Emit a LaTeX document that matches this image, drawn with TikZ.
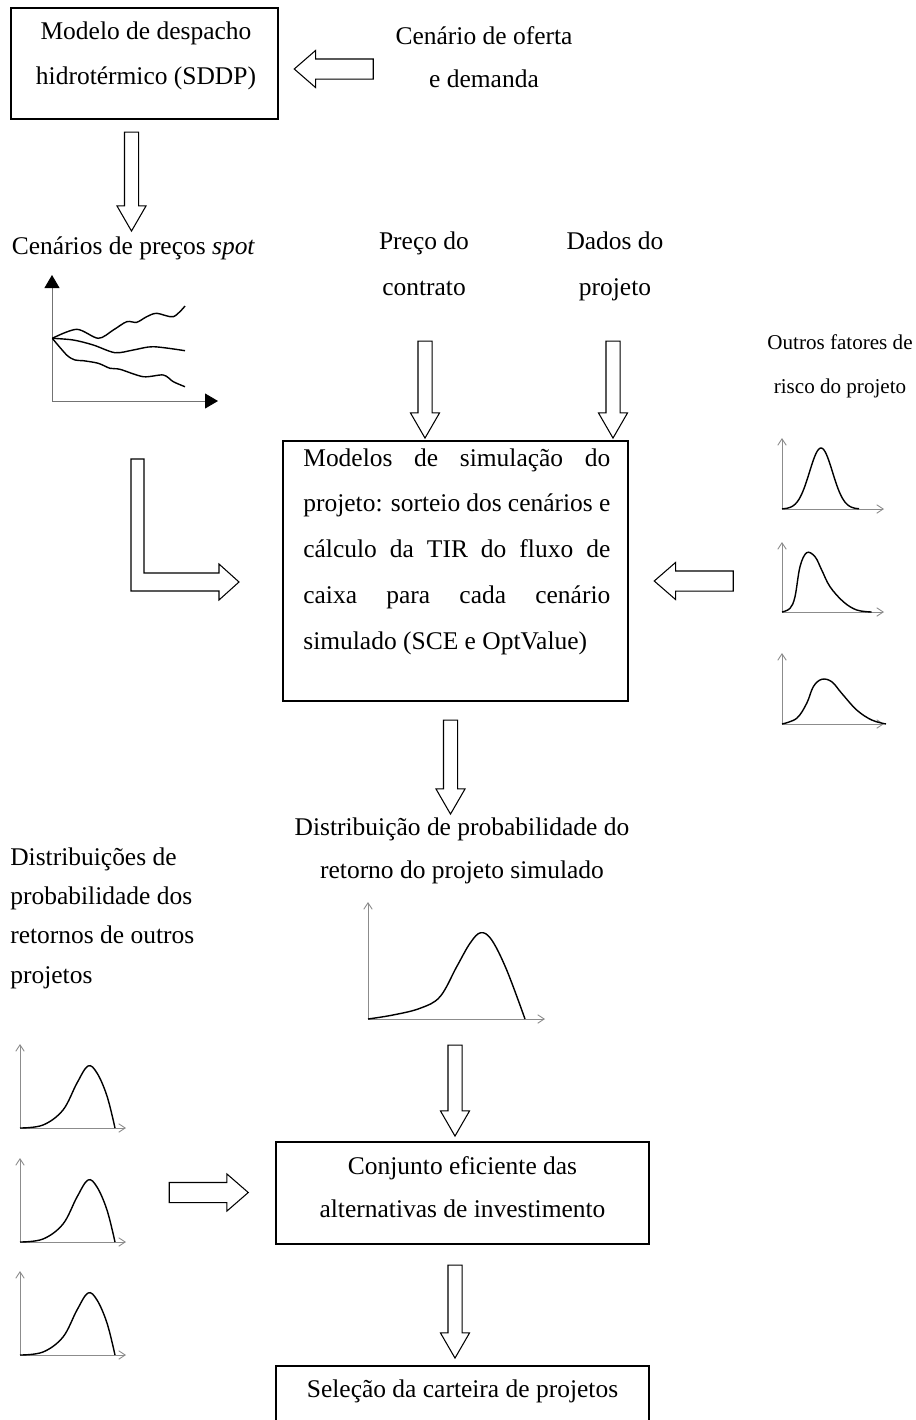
\documentclass[tikz,border=0pt]{standalone}
\usepackage{fontspec}
\setmainfont{Liberation Serif}
\usetikzlibrary{shapes.arrows,arrows.meta}
\pgfdeclarelayer{bg}
\pgfsetlayers{bg,main}
\hyphenpenalty=10000

\tikzset{
  txt/.style={font=\fontsize{14.5}{25}\selectfont, align=center, inner sep=0pt},
  frame/.style={draw, line width=0.7pt, inner sep=0pt},
  downarrow/.style={single arrow, draw, line width=0.6pt, fill=white, inner xsep=0pt,
    inner ysep=0.13cm, minimum width=0pt, single arrow head extend=0.15cm,
    single arrow tip angle=60, minimum height=1.94cm, rotate=-90},
  sidearrow/.style={single arrow, draw, line width=0.6pt, fill=white, inner xsep=0pt,
    inner ysep=0.19cm, minimum width=0pt, single arrow head extend=0.17cm,
    single arrow tip angle=82, minimum height=1.58cm},
  axis/.style={draw=black!45, line width=0.5pt, -{Straight Barb[length=0.13cm,width=0.17cm]}},
  spotaxis/.style={draw=black!55, line width=0.5pt, -{Triangle[length=0.26cm,width=0.3cm,black]}},
  curve/.style={line width=0.8pt}
}

\begin{document}
\begin{tikzpicture}[x=0.02cm, y=-0.02cm]
        \useasboundingbox (0,0) rectangle (916,1420);
        % caixas
        \node[frame, minimum width=5.34cm, minimum height=2.22cm] (sddp) at (144.5,63.5) {};
        \node[frame, minimum width=6.9cm, minimum height=5.2cm] (sim) at (455.5,571) {};
        \node[frame, minimum width=7.46cm, minimum height=2.04cm] (conj) at (462.5,1193) {};
        \node[frame, minimum width=7.46cm, minimum height=1.2cm] (sel) at (462.5,1396) {};
        % textos (base = ultima linha)
        \node[txt, font=\fontsize{14.5}{25.5}\selectfont, anchor=base] (sddptxt) at (146,84) {Modelo de despacho\\hidrotérmico (SDDP)};
        \node[txt, font=\fontsize{14.5}{24}\selectfont, anchor=base] (oferta) at (484,87) {Cenário de oferta\\e demanda};
        \node[txt, anchor=base] (spot) at (133.5,254) {Cenários de preços \textit{spot}};
        \node[txt, font=\fontsize{14.5}{26}\selectfont, anchor=base] (preco) at (424,295) {Preço do\\contrato};
        \node[txt, font=\fontsize{14.5}{26}\selectfont, anchor=base] (dados) at (615,295) {Dados do\\projeto};
        \node[txt, font=\fontsize{12}{25}\selectfont, anchor=base] (outros) at (840,393) {Outros fatores de\\risco do projeto};
        \node[txt, font=\fontsize{14.5}{26.1}\selectfont, align=justify, text width=6.14cm, anchor=base west] (simtxt) at (303,466)
                {Modelos de simulação do\linebreak projeto: sorteio dos cenários e\linebreak cálculo da TIR do fluxo de\linebreak caixa para cada cenário\linebreak simulado (SCE e OptValue)};
        \node[txt, font=\fontsize{14.5}{24}\selectfont, anchor=base] (distsim) at (462,878) {Distribuição de probabilidade do\\retorno do projeto simulado};
        \node[txt, font=\fontsize{14.5}{22.3}\selectfont, align=left, anchor=base west] (distout) at (10,983) {Distribuições de\\probabilidade dos\\retornos de outros\\projetos};
        \node[txt, font=\fontsize{14.5}{24.4}\selectfont, anchor=base] (conjtxt) at (462.5,1217) {Conjunto eficiente das\\alternativas de investimento};
        \node[txt, anchor=base] (seltxt) at (462.5,1397) {Seleção da carteira de projetos};
        % setas
        \node[downarrow, minimum height=1.98cm] (a1) at (131.5,175.5) {};
        \node[downarrow] (a2) at (425,383.5) {};
        \node[downarrow] (a3) at (613,383.5) {};
        \node[downarrow, minimum height=1.88cm] (a4) at (450.5,761) {};
        \node[downarrow, minimum height=1.82cm] (a5) at (455,1084.5) {};
        \node[downarrow, minimum height=1.86cm] (a6) at (455,1305.5) {};
        \node[sidearrow, rotate=180] (b1) at (339.5,69) {};
        \node[sidearrow, rotate=180] (b2) at (699.5,581) {};
        \node[sidearrow] (b3) at (203,1192.5) {};
        \draw[line width=0.6pt] (131,459) -- (144,459) -- (144,573) -- (219,573) -- (219,564)
                -- (239,582) -- (219,600) -- (219,591) -- (131,591) -- cycle;
        % precos spot
        \begin{pgfonlayer}{bg}
                \draw[spotaxis] (52,401) -- (52,275);
                \draw[spotaxis] (52,401) -- (218,401);
        \end{pgfonlayer}
        \draw[curve] plot[smooth, tension=0.5] coordinates {(52.3,338.3) (76.7,329.3) (98.3,338.3) (113.3,330) (126.7,321.7) (136.7,322.3) (146.7,316.7) (156.7,313.3) (173.3,316.7) (185,306)};
        \draw[curve] plot[smooth, tension=0.5] coordinates {(52.3,338.3) (73.3,340) (93.3,345) (115,352.7) (133.3,350) (153.3,346.7) (185,350.7)};
        \draw[curve] plot[smooth, tension=0.5] coordinates {(52.3,338.3) (66.7,355) (75,360) (83.3,360.7) (98.3,363.3) (110,368.3) (120,369.3) (143.3,376.7) (163.3,375) (173.3,381.7) (185,386.7)};
        % fatores de risco
        \begin{scope}[shift={(782,509)}]
                \draw[axis] (0,0) -- (0,-71);
                \draw[axis] (0,0) -- (102,0);
                \draw[curve] plot[domain=0:77, samples=60, smooth] (\x, {-61*exp(-((\x-39)/11.5)^2/2)});
        \end{scope}
        \begin{scope}[shift={(782,612)}]
                \draw[axis] (0,0) -- (0,-70);
                \draw[axis] (0,0) -- (102,0);
                \draw[curve] plot[smooth, tension=0.6] coordinates {(0,0) (8,-3.7) (13,-15.3) (18,-45.3) (24.7,-59.3) (33,-55.3) (39.7,-42) (48,-25.3) (61.3,-10.3) (74.7,-2) (89.7,0)};
        \end{scope}
        \begin{scope}[shift={(782,724)}]
                \draw[axis] (0,0) -- (0,-71);
                \draw[axis] (0,0) -- (102,0);
                \draw[curve] plot[smooth, tension=0.6] coordinates {(0,0) (14.7,-5.7) (24.7,-20.7) (31.3,-37.3) (39.7,-44.7) (49.7,-42.3) (59.7,-30.7) (74.7,-14) (89.7,-4) (104,0)};
        \end{scope}
        % projeto simulado
        \begin{scope}[shift={(368,1019)}]
                \draw[axis] (0,0) -- (0,-117);
                \draw[axis] (0,0) -- (177,0);
                \draw[curve] plot[smooth, tension=0.6] coordinates {(0,0) (25,-4) (52,-10.7) (72,-22.3) (88.7,-52.3) (102,-75.7) (112.7,-86.3) (123.7,-79) (138.7,-49) (157,0)};
        \end{scope}
        % outros projetos
        \foreach \b in {1128,1242,1355}
        {
                \begin{scope}[shift={(20,\b)}]
                        \draw[axis] (0,0) -- (0,-84);
                        \draw[axis] (0,0) -- (106,0);
                        \draw[curve] plot[smooth, tension=0.6] coordinates {(0,0) (23,-3) (43,-18) (57,-45) (68,-62) (77,-55) (87,-32) (95,0)};
                \end{scope}
        }
\end{tikzpicture}
\end{document}
